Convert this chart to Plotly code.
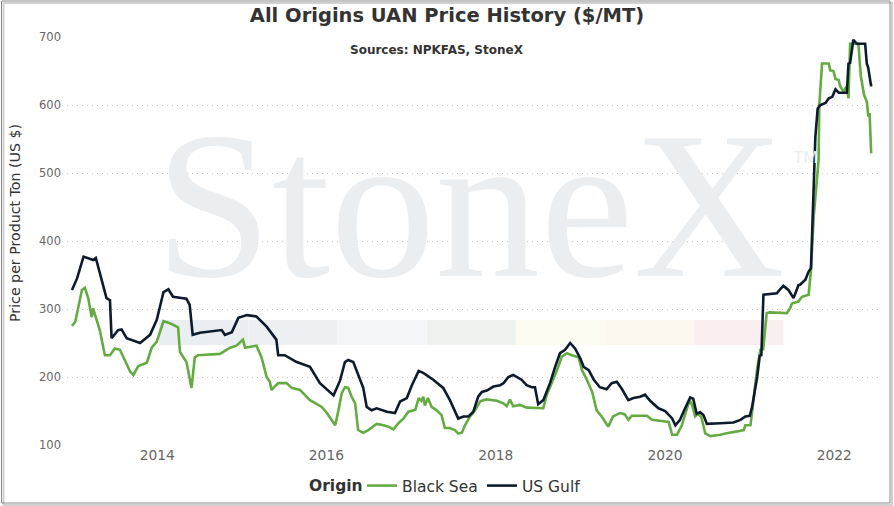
import plotly.graph_objects as go

# ---------------- data ----------------
usg_dates = [
    "2012-12-29", "2013-01-20", "2013-02-17", "2013-03-07", "2013-03-30", "2013-04-11",
    "2013-04-28", "2013-05-27", "2013-06-11", "2013-06-18", "2013-07-16", "2013-07-31",
    "2013-08-22", "2013-10-19", "2013-12-01", "2013-12-30", "2014-01-28", "2014-02-18",
    "2014-03-10", "2014-05-07", "2014-05-21", "2014-06-03", "2014-07-04", "2014-10-06",
    "2014-10-20", "2014-11-19", "2014-12-17", "2015-01-23", "2015-03-05", "2015-04-18",
    "2015-05-30", "2015-06-07", "2015-07-05", "2015-08-26", "2015-10-22", "2015-12-04",
    "2016-02-01", "2016-02-29", "2016-03-21", "2016-04-04", "2016-04-26", "2016-05-10",
    "2016-06-08", "2016-06-23", "2016-07-14", "2016-08-05", "2016-09-18", "2016-10-23",
    "2016-11-14", "2016-12-13", "2017-01-04", "2017-02-02", "2017-02-22", "2017-04-06",
    "2017-05-19", "2017-06-17", "2017-07-08", "2017-07-23", "2017-08-14", "2017-09-05",
    "2017-09-26", "2017-10-17", "2017-11-02", "2017-11-23", "2017-12-22", "2018-01-20",
    "2018-02-04", "2018-02-24", "2018-03-17", "2018-04-22", "2018-05-14", "2018-06-05",
    "2018-06-19", "2018-07-03", "2018-07-25", "2018-08-23", "2018-09-14", "2018-10-05",
    "2018-10-27", "2018-11-18", "2018-12-09", "2019-01-01", "2019-01-15", "2019-02-06",
    "2019-02-28", "2019-03-26", "2019-04-24", "2019-05-16", "2019-06-07", "2019-06-28",
    "2019-07-27", "2019-08-18", "2019-09-16", "2019-10-07", "2019-10-29", "2019-12-04",
    "2020-01-02", "2020-02-01", "2020-02-15", "2020-03-06", "2020-03-28", "2020-04-19",
    "2020-05-02", "2020-05-17", "2020-06-01", "2020-06-15", "2020-06-30", "2020-07-28",
    "2020-08-27", "2020-10-23", "2020-11-22", "2020-12-13", "2021-01-01", "2021-01-11",
    "2021-02-02", "2021-02-13", "2021-02-20", "2021-03-01", "2021-04-13", "2021-04-28",
    "2021-05-12", "2021-05-26", "2021-06-17", "2021-07-09", "2021-07-30", "2021-08-07",
    "2021-08-29", "2021-09-12", "2021-09-22", "2021-09-27", "2021-10-04", "2021-10-11",
    "2021-10-21", "2021-11-02", "2021-11-24", "2021-12-08", "2021-12-23", "2022-01-06",
    "2022-01-20", "2022-02-24", "2022-03-03", "2022-03-10", "2022-03-24", "2022-04-08",
    "2022-05-14", "2022-05-21", "2022-05-27", "2022-06-08", "2022-06-14",
]
usg_values = [
    328, 345, 377, 375, 372, 375,
    353, 316, 313, 257, 269, 270,
    257, 250, 262, 284, 325, 329,
    318, 315, 306, 262, 265, 269,
    262, 266, 287, 291, 289, 274,
    255, 232, 232, 222, 215, 191,
    173, 195, 222, 225, 222, 210,
    184, 156, 151, 154, 149, 147,
    164, 169, 188, 209, 206, 196,
    184, 166, 151, 139, 142, 142,
    149, 171, 178, 180, 186, 188,
    191, 200, 203, 196, 188, 185,
    185, 160, 166, 191, 215, 235,
    240, 250, 242, 227, 215, 210,
    196, 185, 182, 191, 193, 183,
    166, 169, 171, 174, 165, 154,
    150, 139, 129, 137, 154, 170,
    168, 146, 148, 144, 131, 131,
    132, 133, 137, 142, 143, 156,
    200, 231, 232, 321, 322, 323,
    329, 334, 328, 316, 335, 336,
    343, 355, 360, 416, 500, 553,
    595, 600, 603, 610, 612, 623,
    618, 618, 661, 662, 696, 690,
    690, 661, 655, 629, 629,
]

bs_dates = [
    "2012-12-29", "2013-01-12", "2013-02-10", "2013-02-23", "2013-03-09", "2013-03-24",
    "2013-03-30", "2013-04-28", "2013-05-20", "2013-06-11", "2013-07-02", "2013-07-24",
    "2013-09-06", "2013-09-20", "2013-10-11", "2013-11-17", "2013-12-08", "2013-12-30",
    "2014-01-28", "2014-02-25", "2014-04-01", "2014-04-09", "2014-05-07", "2014-05-29",
    "2014-06-12", "2014-06-26", "2014-09-29", "2014-11-11", "2014-12-09", "2015-01-06",
    "2015-01-15", "2015-03-05", "2015-03-27", "2015-04-18", "2015-05-02", "2015-05-09",
    "2015-06-07", "2015-07-13", "2015-08-04", "2015-09-09", "2015-10-22", "2015-12-12",
    "2016-01-03", "2016-02-08", "2016-02-22", "2016-03-07", "2016-03-21", "2016-04-04",
    "2016-04-19", "2016-05-04", "2016-05-17", "2016-06-08", "2016-06-30", "2016-08-05",
    "2016-09-04", "2016-09-25", "2016-10-16", "2016-11-07", "2016-11-29", "2016-12-20",
    "2017-01-19", "2017-02-02", "2017-02-13", "2017-02-22", "2017-03-01", "2017-03-14",
    "2017-03-30", "2017-04-21", "2017-05-12", "2017-05-26", "2017-06-17", "2017-07-08",
    "2017-07-23", "2017-08-07", "2017-08-21", "2017-09-12", "2017-10-04", "2017-10-25",
    "2017-11-09", "2017-11-23", "2018-01-06", "2018-02-04", "2018-02-17", "2018-03-03",
    "2018-03-17", "2018-04-15", "2018-05-14", "2018-07-25", "2018-08-09", "2018-08-31",
    "2018-09-22", "2018-10-13", "2018-11-04", "2018-11-25", "2018-12-24", "2019-01-08",
    "2019-01-29", "2019-02-21", "2019-03-12", "2019-04-03", "2019-05-01", "2019-05-22",
    "2019-06-21", "2019-07-12", "2019-07-27", "2019-08-11", "2019-10-15", "2019-11-06",
    "2020-01-17", "2020-02-01", "2020-02-22", "2020-03-14", "2020-03-28", "2020-04-16",
    "2020-04-28", "2020-05-10", "2020-05-23", "2020-06-06", "2020-06-23", "2020-07-14",
    "2020-08-27", "2020-09-18", "2020-11-08", "2020-12-06", "2020-12-13", "2021-01-04",
    "2021-01-18", "2021-02-02", "2021-02-16", "2021-02-28", "2021-03-15", "2021-03-29",
    "2021-06-10", "2021-06-24", "2021-07-02", "2021-07-30", "2021-08-14", "2021-09-12",
    "2021-09-22", "2021-10-04", "2021-10-25", "2021-10-28", "2021-11-09", "2021-12-08",
    "2021-12-14", "2021-12-28", "2022-01-06", "2022-01-19", "2022-01-27", "2022-02-09",
    "2022-02-22", "2022-03-03", "2022-03-10", "2022-04-15", "2022-04-25", "2022-05-09",
    "2022-05-21", "2022-05-28", "2022-06-02", "2022-06-09",
]
bs_values = [
    275, 281, 328, 331, 316, 288,
    301, 269, 232, 232, 242, 240,
    208, 203, 216, 221, 243, 252,
    282, 279, 273, 237, 222, 184,
    229, 232, 234, 243, 246, 255,
    243, 246, 229, 200, 193, 181,
    191, 191, 184, 181, 166, 156,
    147, 129, 151, 176, 185, 184,
    171, 161, 122, 118, 122, 131,
    129, 127, 123, 132, 139, 149,
    152, 169, 165, 171, 158, 169,
    156, 151, 144, 125, 125, 122,
    117, 118, 129, 142, 151, 164,
    166, 167, 165, 161, 157, 167,
    157, 159, 155, 154, 174, 191,
    210, 230, 235, 232, 229, 210,
    196, 178, 151, 142, 127, 142,
    147, 145, 137, 143, 143, 137,
    134, 115, 115, 129, 146, 166,
    158, 142, 146, 141, 117, 113,
    115, 117, 120, 122, 129, 129,
    169, 213, 240, 241, 294, 295,
    294, 301, 308, 311, 318, 321,
    357, 436, 519, 600, 661, 661,
    651, 650, 638, 637, 627, 620,
    627, 610, 690, 690, 643, 615,
    605, 583, 588, 529,
]

series_names = ["Black Sea", "US Gulf"]
series_colors = ["#64ab42", "#0d1b2e"]
y_ticks = [100, 200, 300, 400, 500, 600, 700]
x_ticks = ["2014-01-01", "2016-01-01", "2018-01-01", "2020-01-01", "2022-01-01"]
x_tick_labels = ["2014", "2016", "2018", "2020", "2022"]
x_range = ["2012-11-16", "2022-07-17"]
y_range = [100, 700]

title_text = "All Origins UAN Price History ($/MT)"
subtitle_text = "Sources: NPKFAS, StoneX"
y_title_text = "Price per Product Ton (US $)"
legend_title = "Origin"

# watermark colour band
band_colors = ["#eaedf1", "#edf0f3", "#f2f6f9", "#edf2ef", "#fbfbf2", "#fcf8ef", "#f9eef0"]

# ---------------- figure ----------------
W, H = 894, 506
L, R, T, B = 62, 14, 37, 61
PW, PH = W - L - R, H - T - B


def px_x(px):
    return (px - L) / PW


def px_y(py):
    return (T + PH - py) / PH


fig = go.Figure()
fig.add_trace(go.Scatter(x=bs_dates, y=bs_values, name=series_names[0], mode="lines",
                         line=dict(color=series_colors[0], width=2.6)))
fig.add_trace(go.Scatter(x=usg_dates, y=usg_values, name=series_names[1], mode="lines",
                         line=dict(color=series_colors[1], width=2.6)))

shapes = []
# colour band of the watermark
band_left, band_w = 159, 89.2
for i, c in enumerate(band_colors):
    shapes.append(dict(type="rect", xref="paper", yref="paper",
                       x0=px_x(band_left + i * band_w), x1=px_x(band_left + (i + 1) * band_w),
                       y0=px_y(345), y1=px_y(320), fillcolor=c, line=dict(width=0),
                       layer="below"))
# outer frame with soft shadow
shapes.append(dict(type="rect", xref="paper", yref="paper",
                   x0=px_x(3.5), x1=px_x(892), y0=px_y(505), y1=px_y(3),
                   line=dict(color="#d0d0d0", width=2), layer="below"))
shapes.append(dict(type="rect", xref="paper", yref="paper",
                   x0=px_x(1.5), x1=px_x(890), y0=px_y(503), y1=px_y(1),
                   line=dict(color="#8a8a8a", width=1), layer="below"))

annotations = [
    dict(text="StoneX", xref="paper", yref="paper", x=px_x(470), y=px_y(205),
         xanchor="center", yanchor="middle", showarrow=False,
         font=dict(family="Liberation Serif", size=210, color="#ebeef1")),
    dict(text="TM", xref="paper", yref="paper", x=px_x(805), y=px_y(158),
         xanchor="center", yanchor="middle", showarrow=False,
         font=dict(family="Liberation Sans", size=17, color="#ebeef1")),
    dict(text="<b>" + subtitle_text + "</b>", xref="paper", yref="paper",
         x=px_x(437), y=px_y(50), xanchor="center", yanchor="middle", showarrow=False,
         font=dict(family="DejaVu Sans", size=12, color="#333333")),
    dict(text=y_title_text, xref="paper", yref="paper", x=px_x(15), y=px_y(223),
         xanchor="center", yanchor="middle", showarrow=False, textangle=-90,
         font=dict(family="DejaVu Sans", size=14.2, color="#333333")),
    dict(text="<b>" + legend_title + "</b>", xref="paper", yref="paper",
         x=px_x(365), y=px_y(486), xanchor="right", yanchor="middle", showarrow=False,
         font=dict(family="DejaVu Sans", size=15.5, color="#333333")),
]

fig.update_layout(
    width=W, height=H,
    margin=dict(l=L, r=R, t=T, b=B, autoexpand=False),
    paper_bgcolor="white", plot_bgcolor="rgba(0,0,0,0)",
    title=dict(text="<b>" + title_text + "</b>", x=0.5, xanchor="center",
               y=1 - 15 / H, yanchor="middle",
               font=dict(family="DejaVu Sans", size=19.5, color="#333333")),
    shapes=shapes, annotations=annotations,
    showlegend=True,
    legend=dict(orientation="h", x=px_x(362), xanchor="left", y=px_y(486), yanchor="middle",
                font=dict(family="DejaVu Sans", size=15.5, color="#333333"),
                itemwidth=30, tracegroupgap=0, bgcolor="rgba(0,0,0,0)",
                entrywidth=75, entrywidthmode="pixels"),
    xaxis=dict(type="date", range=x_range, tickvals=x_ticks, ticktext=x_tick_labels,
               showgrid=False, zeroline=False, showline=False, ticks="",
               tickfont=dict(family="DejaVu Sans", size=13.8, color="#666666")),
    yaxis=dict(range=y_range, tickvals=y_ticks, showgrid=True, gridcolor="#c4c4c4",
               griddash="1px,4px", gridwidth=1, zeroline=False, showline=False, ticks="",
               tickfont=dict(family="DejaVu Sans", size=11.5, color="#666666")),
)

fig.write_html("out.html", config={"displayModeBar": False},
               post_script="document.body.style.margin='0px';document.body.style.padding='0px';")
